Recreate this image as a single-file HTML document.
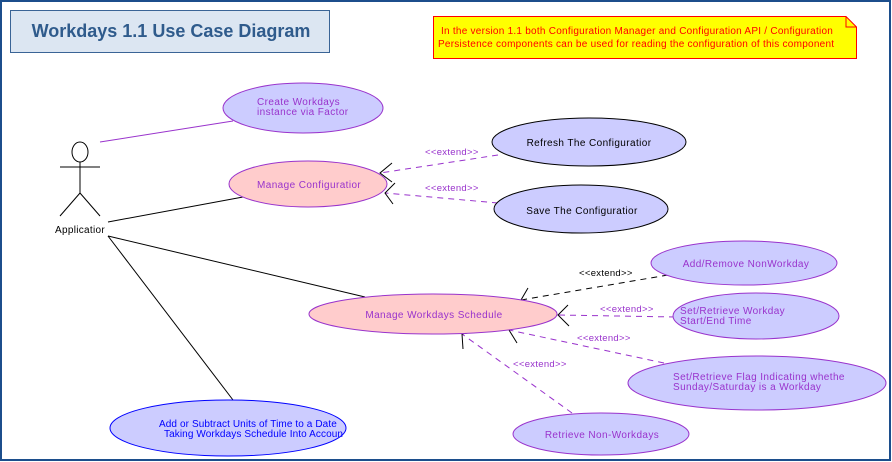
<!DOCTYPE html>
<html><head><style>html,body{margin:0;padding:0;background:#fff}svg{display:block}</style></head>
<body>
<svg width="892" height="462" viewBox="0 0 892 462" xmlns="http://www.w3.org/2000/svg" font-family="Liberation Sans, sans-serif">
<rect x="1" y="1" width="889" height="459" fill="#fff" stroke="#1c4e8c" stroke-width="2"/>
<rect x="10.5" y="10.5" width="319" height="42" fill="#dce6f2" stroke="#3a6496"/>
<text x="171" y="37" text-anchor="middle" font-size="18" font-weight="bold" fill="#2f5b8c">Workdays 1.1 Use Case Diagram</text>
<path d="M433.5 16.5 H846 L856.5 27 V58.5 H433.5 Z" fill="#ffff00" stroke="#ff0000"/>
<path d="M846 16.5 V27 H856.5" fill="none" stroke="#ff0000"/>
<g font-size="10" fill="#ff0000" letter-spacing="0.25"><text x="441" y="34">In the version 1.1 both Configuration Manager and Configuration API / Configuration</text><text x="438" y="47">Persistence components can be used for reading the configuration of this component</text></g>
<g stroke="#000" fill="none" stroke-width="1"><ellipse cx="80" cy="152" rx="8" ry="10"/><line x1="80" y1="162" x2="80" y2="193"/><line x1="60" y1="167" x2="100" y2="167"/><line x1="80" y1="193" x2="60" y2="216"/><line x1="80" y1="193" x2="100" y2="216"/></g>
<text x="55" y="233" font-size="10" fill="#000" letter-spacing="0.3">Applicatior</text>
<line x1="100" y1="142" x2="233" y2="121" stroke="#9933cc"/>
<line x1="108" y1="222" x2="243" y2="197" stroke="#000"/>
<line x1="108" y1="236" x2="365" y2="297" stroke="#000"/>
<line x1="108" y1="236" x2="233" y2="400" stroke="#000"/>
<g stroke-dasharray="6,5" fill="none">
<line x1="498" y1="155" x2="380" y2="173" stroke="#9933cc"/>
<line x1="498" y1="203" x2="385" y2="193" stroke="#9933cc"/>
<line x1="668" y1="275" x2="521" y2="300" stroke="#000"/>
<line x1="675" y1="317" x2="558" y2="315" stroke="#9933cc"/>
<line x1="664" y1="363" x2="509" y2="330" stroke="#9933cc"/>
<line x1="572" y1="413" x2="462" y2="334" stroke="#9933cc"/>
</g>
<g fill="none" stroke-width="1" stroke="#000">
<path d="M392 163 L380 173 L392 182"/>
<path d="M395 183 L385 193 L393 204"/>
<path d="M528 288 L521 300 L533 308"/>
<path d="M568 305 L558 315 L569 326"/>
<path d="M520 322 L509 330 L517 343"/>
<path d="M463 349 L462 334 L473 332"/>
</g>
<g font-size="9.5" fill="#9933cc" letter-spacing="0.3"><text x="425" y="155">&lt;&lt;extend&gt;&gt;</text><text x="425" y="191">&lt;&lt;extend&gt;&gt;</text><text x="600" y="312">&lt;&lt;extend&gt;&gt;</text><text x="577" y="341">&lt;&lt;extend&gt;&gt;</text><text x="513" y="367">&lt;&lt;extend&gt;&gt;</text></g>
<text x="579" y="276" font-size="9.5" fill="#000" letter-spacing="0.3">&lt;&lt;extend&gt;&gt;</text>
<g font-size="10" letter-spacing="0.4">
<ellipse cx="303" cy="108" rx="80" ry="25" fill="#ccccff" stroke="#9933cc"/>
<g fill="#9933cc"><text x="257" y="105">Create Workdays</text><text x="257" y="115">instance via Factor</text></g>
<ellipse cx="308" cy="184" rx="79" ry="23" fill="#ffcccc" stroke="#9933cc"/>
<text x="257" y="188" fill="#9933cc">Manage Configuratior</text>
<ellipse cx="589" cy="142" rx="97" ry="24" fill="#ccccff" stroke="#000"/>
<text x="589" y="146" text-anchor="middle" fill="#000">Refresh The Configuratior</text>
<ellipse cx="581" cy="209" rx="87" ry="24" fill="#ccccff" stroke="#000"/>
<text x="582" y="214" text-anchor="middle" fill="#000">Save The Configuratior</text>
<ellipse cx="433" cy="314" rx="124" ry="20" fill="#ffcccc" stroke="#9933cc"/>
<text x="434" y="318" text-anchor="middle" fill="#9933cc">Manage Workdays Schedule</text>
<ellipse cx="228" cy="428" rx="118" ry="28" fill="#ccccff" stroke="#0000ff"/>
<g fill="#0000ff" letter-spacing="0.1"><text x="159" y="427">Add or Subtract Units of Time to a Date</text><text x="164" y="437">Taking Workdays Schedule Into Accoun</text></g>
<ellipse cx="744" cy="263" rx="93" ry="22" fill="#ccccff" stroke="#9933cc"/>
<text x="746" y="267" text-anchor="middle" fill="#9933cc">Add/Remove NonWorkday</text>
<ellipse cx="756" cy="316" rx="83" ry="23" fill="#ccccff" stroke="#9933cc"/>
<g fill="#9933cc"><text x="680" y="314">Set/Retrieve Workday</text><text x="680" y="324">Start/End Time</text></g>
<ellipse cx="757" cy="383" rx="129" ry="27" fill="#ccccff" stroke="#9933cc"/>
<g fill="#9933cc"><text x="673" y="380">Set/Retrieve Flag Indicating whethe</text><text x="673" y="390">Sunday/Saturday is a Workday</text></g>
<ellipse cx="601" cy="434" rx="88" ry="21" fill="#ccccff" stroke="#9933cc"/>
<text x="602" y="438" text-anchor="middle" fill="#9933cc">Retrieve Non-Workdays</text>
</g>
</svg>
</body></html>
